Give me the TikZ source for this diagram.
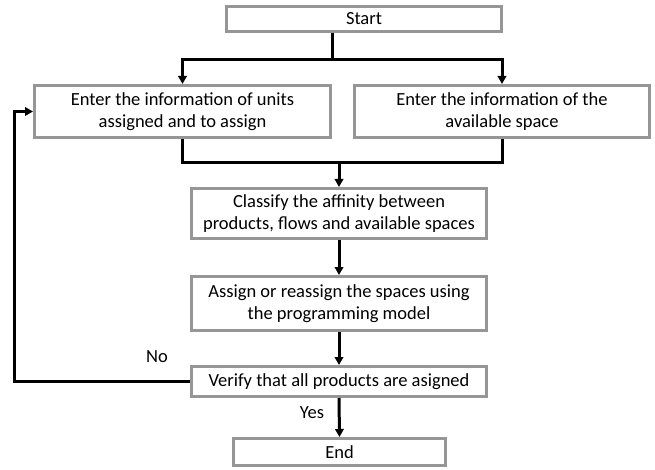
\documentclass[tikz,border=0pt]{standalone}
\usepackage{fontspec}
\setmainfont{Carlito}
\usetikzlibrary{arrows.meta}
\definecolor{boxgray}{RGB}{150,150,150}
\tikzset{
  stepbox/.style={draw=boxgray, line width=3pt, fill=white, align=center, inner sep=0pt, font=\fontsize{18.5}{22}\selectfont},
  conn/.style={line width=3pt, -{Triangle[length=8pt,width=8.5pt]}},
  plain/.style={line width=3pt},
  lbl/.style={font=\fontsize{18.5}{22}\selectfont}
}
\begin{document}
\begin{tikzpicture}[x=1pt,y=-1pt]
\useasboundingbox (0,0) rectangle (655,470);
\node[stepbox, minimum width=275pt, minimum height=25pt] (start) at (364,19) {Start};
\node[stepbox, minimum width=296pt, minimum height=52pt] (left) at (182.5,111.5) {Enter the information of units\\assigned and to assign};
\node[stepbox, minimum width=295pt, minimum height=52pt] (right) at (502,111.5) {Enter the information of the\\available space};
\node[stepbox, minimum width=295pt, minimum height=50pt] (classify) at (339,213.5) {Classify the affinity between\\products, flows and available spaces};
\node[stepbox, minimum width=295pt, minimum height=54pt] (assign) at (339,303.5) {Assign or reassign the spaces using\\the programming model};
\node[stepbox, minimum width=295pt, minimum height=30pt] (verify) at (339,381.5) {Verify that all products are asigned};
\node[stepbox, minimum width=212pt, minimum height=27pt] (end) at (339.5,452) {End};
\coordinate (s1) at (332,60);
\coordinate (m1) at (339,163);
\coordinate (fb) at (14,381.5);
\draw[plain] (start.south -| s1) -- (s1);
\draw[conn] (s1) -| (left.north);
\draw[conn] (s1) -| (right.north);
\draw[plain] (left.south) |- (m1);
\draw[plain] (right.south) |- (m1);
\draw[conn] (m1) -- (classify.north);
\draw[conn] (classify.south) -- (assign.north);
\draw[conn] (assign.south) -- (verify.north);
\draw[conn] (verify.south) -- (end.north);
\draw[conn] (verify.west) -- (fb) |- (left.west);
\node[lbl] (no) at (157,357) {No};
\node[lbl] (yes) at (312,413) {Yes};
\end{tikzpicture}
\end{document}
